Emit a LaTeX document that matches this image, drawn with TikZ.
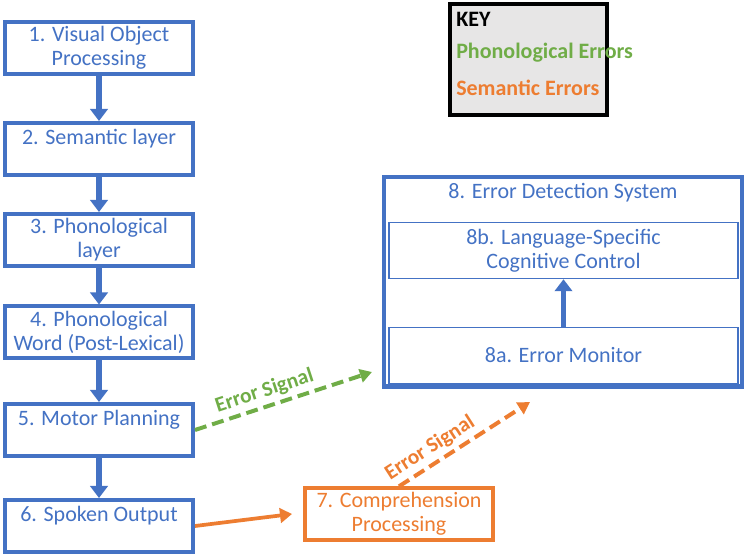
\documentclass[tikz,border=0pt]{standalone}
\usepackage{fontspec}
\setmainfont{Carlito}
\usepackage{xcolor}
\definecolor{blu}{HTML}{4472C4}
\definecolor{org}{HTML}{ED7D31}
\definecolor{grn}{HTML}{70AD47}
\definecolor{keygray}{HTML}{E7E6E6}
\usetikzlibrary{arrows.meta}

\begin{document}
\begin{tikzpicture}[x=0.75pt, y=-0.75pt,
    stage/.style={draw=blu, line width=3pt, fill=white, text=blu, minimum width=141pt, minimum height=39pt, align=center, inner sep=0pt, font=\fontsize{16.5}{18}\selectfont},
    comp/.style={stage, draw=org, text=org, line width=2.5pt},
    sys/.style={draw=blu, line width=3.2pt, minimum width=269pt, minimum height=157pt, inner sep=0pt},
    sub/.style={draw=blu, line width=1.1pt, text=blu, minimum width=262pt, minimum height=42pt, align=center, inner sep=0pt, font=\fontsize{16.5}{18}\selectfont},
    keybox/.style={draw=black, line width=3pt, fill=keygray, minimum width=117.75pt, minimum height=83.25pt, inner sep=0pt},
    keytxt/.style={anchor=west, inner sep=0pt, font=\fontsize{16.5}{18}\selectfont\bfseries},
    down/.style={-{Triangle[width=13pt,length=9pt]}, line width=4pt, blu},
    flow/.style={-{Triangle[width=11pt,length=9pt]}, line width=2.8pt, org},
    sig/.style={-{Triangle[width=10pt,length=9pt]}, line width=3pt, dash pattern=on 9pt off 4.5pt},
    siglbl/.style={font=\fontsize{16}{18}\selectfont\bfseries, sloped, above, inner sep=3pt}
]
\useasboundingbox (0,0) rectangle (750,559);

% Stages
\node[stage] (n1) at (99,48) {1. Visual Object\\Processing};
\node[stage] (n2) at (99,149) {2. Semantic layer\\\mbox{}};
\node[stage] (n3) at (99,240) {3. Phonological\\layer};
\node[stage] (n4) at (99,332.5) {4. Phonological\\Word (Post-Lexical)};
\node[stage] (n5) at (99,430) {5. Motor Planning\\\mbox{}};
\node[stage] (n6) at (99,526) {6. Spoken Output\\\mbox{}};

\draw[down] (n1) -- (n2);
\draw[down] (n2) -- (n3);
\draw[down] (n3) -- (n4);
\draw[down] (n4) -- (n5);
\draw[down] (n5) -- (n6);

% Comprehension
\node[comp] (n7) at (399,514) {7. Comprehension\\Processing};
\coordinate (in7) at (292,514);
\draw[flow] (n6.east) -- (in7);

% Error detection system
\node[sys] (sys) at (563,281.75) {};
\node[text=blu, font=\fontsize{16.5}{18}\selectfont, inner sep=0pt] (systitle) at (563,193) {8. Error Detection System};
\node[sub] (n8b) at (563.5,250.5) {8b. Language-Specific\\Cognitive Control};
\node[sub] (n8a) at (563.5,355.5) {8a. Error Monitor};
\draw[down, line width=3.2pt] (n8a) -- (n8b);

% Error signals
\coordinate (gtip) at (372,372);
\coordinate (otip) at (530,402);
\draw[sig, grn] (n5.east) -- node[siglbl, pos=0.42, text=grn] (glbl) {Error Signal} (gtip);
\draw[sig, org] (n7.north) -- node[siglbl, pos=0.3, text=org] (olbl) {Error Signal} (otip);

% Key
\node[keybox] (key) at (528.5,60) {};
\node[keytxt] (keyk) at (456,19) {KEY};
\node[keytxt, text=grn] (keyp) at (456,53) {Phonological Errors};
\node[keytxt, text=org] (keys) at (456,88) {Semantic Errors};

\end{tikzpicture}
\end{document}
